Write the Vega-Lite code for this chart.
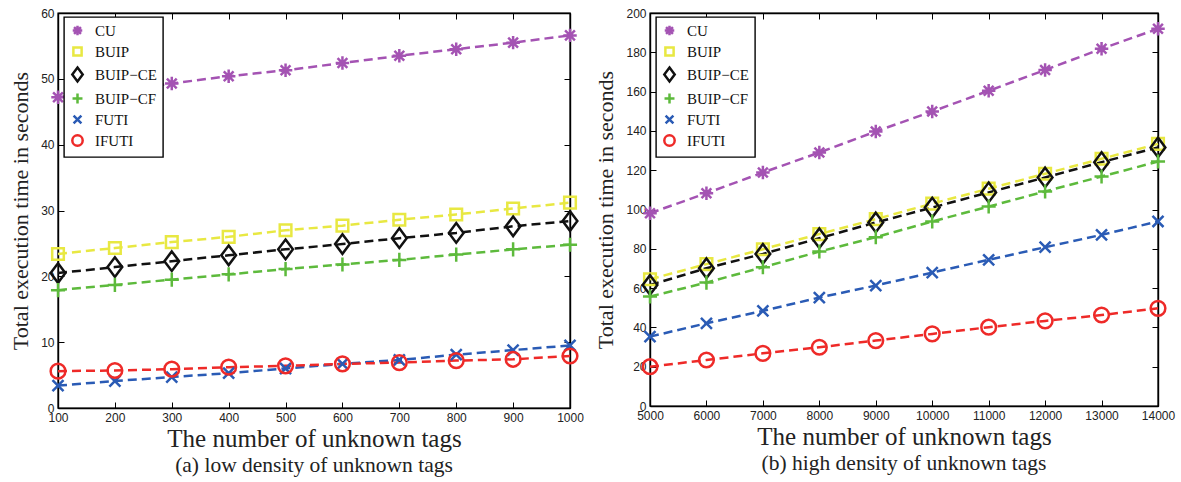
{
  "$schema": "https://vega.github.io/schema/vega-lite/v6.json",
  "background": "white",
  "padding": {"left": 8, "top": 6, "right": 6, "bottom": 2},
  "spacing": 9,
  "config": {
    "view": {"stroke": "black", "strokeWidth": 1.4},
    "axis": {"grid": false, "domainColor": "black", "domainWidth": 1.4, "tickColor": "black", "tickWidth": 1, "labelFont": "Liberation Sans", "labelFontSize": 12, "labelColor": "#222", "labelFlush": false, "titleFont": "Liberation Serif", "titleFontWeight": "normal", "titleColor": "#222", "tickSize": -6, "labelPadding": 10, "format": "d"},
    "legend": {"strokeColor": "black", "strokeWidth": 1.4, "fillColor": "white", "padding": 6, "rowPadding": 1, "symbolSize": 75, "symbolStrokeWidth": 2.5, "labelFont": "Liberation Serif", "labelFontSize": 15, "labelColor": "#111", "labelOffset": 10}
  },
  "datasets": {
    "low": [
      {"n": 100, "method": "CU", "t": 47.2}, {"n": 200, "method": "CU", "t": 48.2}, {"n": 300, "method": "CU", "t": 49.3}, {"n": 400, "method": "CU", "t": 50.4}, {"n": 500, "method": "CU", "t": 51.3}, {"n": 600, "method": "CU", "t": 52.4}, {"n": 700, "method": "CU", "t": 53.5}, {"n": 800, "method": "CU", "t": 54.5}, {"n": 900, "method": "CU", "t": 55.5}, {"n": 1000, "method": "CU", "t": 56.6},
      {"n": 100, "method": "BUIP", "t": 23.4}, {"n": 200, "method": "BUIP", "t": 24.3}, {"n": 300, "method": "BUIP", "t": 25.2}, {"n": 400, "method": "BUIP", "t": 26.0}, {"n": 500, "method": "BUIP", "t": 27.0}, {"n": 600, "method": "BUIP", "t": 27.7}, {"n": 700, "method": "BUIP", "t": 28.6}, {"n": 800, "method": "BUIP", "t": 29.4}, {"n": 900, "method": "BUIP", "t": 30.3}, {"n": 1000, "method": "BUIP", "t": 31.2},
      {"n": 100, "method": "BUIP−CE", "t": 20.5}, {"n": 200, "method": "BUIP−CE", "t": 21.4}, {"n": 300, "method": "BUIP−CE", "t": 22.3}, {"n": 400, "method": "BUIP−CE", "t": 23.2}, {"n": 500, "method": "BUIP−CE", "t": 24.1}, {"n": 600, "method": "BUIP−CE", "t": 24.9}, {"n": 700, "method": "BUIP−CE", "t": 25.8}, {"n": 800, "method": "BUIP−CE", "t": 26.6}, {"n": 900, "method": "BUIP−CE", "t": 27.6}, {"n": 1000, "method": "BUIP−CE", "t": 28.4},
      {"n": 100, "method": "BUIP−CF", "t": 17.9}, {"n": 200, "method": "BUIP−CF", "t": 18.7}, {"n": 300, "method": "BUIP−CF", "t": 19.5}, {"n": 400, "method": "BUIP−CF", "t": 20.3}, {"n": 500, "method": "BUIP−CF", "t": 21.1}, {"n": 600, "method": "BUIP−CF", "t": 21.8}, {"n": 700, "method": "BUIP−CF", "t": 22.5}, {"n": 800, "method": "BUIP−CF", "t": 23.3}, {"n": 900, "method": "BUIP−CF", "t": 24.1}, {"n": 1000, "method": "BUIP−CF", "t": 24.8},
      {"n": 100, "method": "FUTI", "t": 3.4}, {"n": 200, "method": "FUTI", "t": 4.1}, {"n": 300, "method": "FUTI", "t": 4.7}, {"n": 400, "method": "FUTI", "t": 5.3}, {"n": 500, "method": "FUTI", "t": 6.0}, {"n": 600, "method": "FUTI", "t": 6.7}, {"n": 700, "method": "FUTI", "t": 7.3}, {"n": 800, "method": "FUTI", "t": 8.1}, {"n": 900, "method": "FUTI", "t": 8.8}, {"n": 1000, "method": "FUTI", "t": 9.5},
      {"n": 100, "method": "IFUTI", "t": 5.6}, {"n": 200, "method": "IFUTI", "t": 5.7}, {"n": 300, "method": "IFUTI", "t": 5.9}, {"n": 400, "method": "IFUTI", "t": 6.2}, {"n": 500, "method": "IFUTI", "t": 6.4}, {"n": 600, "method": "IFUTI", "t": 6.7}, {"n": 700, "method": "IFUTI", "t": 6.9}, {"n": 800, "method": "IFUTI", "t": 7.2}, {"n": 900, "method": "IFUTI", "t": 7.4}, {"n": 1000, "method": "IFUTI", "t": 7.9}
    ],
    "high": [
      {"n": 5000, "method": "CU", "t": 98.1}, {"n": 6000, "method": "CU", "t": 108.3}, {"n": 7000, "method": "CU", "t": 118.8}, {"n": 8000, "method": "CU", "t": 129.0}, {"n": 9000, "method": "CU", "t": 139.7}, {"n": 10000, "method": "CU", "t": 149.9}, {"n": 11000, "method": "CU", "t": 160.4}, {"n": 12000, "method": "CU", "t": 171.0}, {"n": 13000, "method": "CU", "t": 181.8}, {"n": 14000, "method": "CU", "t": 192.0},
      {"n": 5000, "method": "BUIP", "t": 64.5}, {"n": 6000, "method": "BUIP", "t": 72.2}, {"n": 7000, "method": "BUIP", "t": 79.8}, {"n": 8000, "method": "BUIP", "t": 87.5}, {"n": 9000, "method": "BUIP", "t": 95.1}, {"n": 10000, "method": "BUIP", "t": 103.0}, {"n": 11000, "method": "BUIP", "t": 110.6}, {"n": 12000, "method": "BUIP", "t": 118.2}, {"n": 13000, "method": "BUIP", "t": 125.8}, {"n": 14000, "method": "BUIP", "t": 133.4},
      {"n": 5000, "method": "BUIP−CE", "t": 61.6}, {"n": 6000, "method": "BUIP−CE", "t": 70.1}, {"n": 7000, "method": "BUIP−CE", "t": 77.4}, {"n": 8000, "method": "BUIP−CE", "t": 85.4}, {"n": 9000, "method": "BUIP−CE", "t": 93.4}, {"n": 10000, "method": "BUIP−CE", "t": 101.0}, {"n": 11000, "method": "BUIP−CE", "t": 108.7}, {"n": 12000, "method": "BUIP−CE", "t": 116.3}, {"n": 13000, "method": "BUIP−CE", "t": 124.1}, {"n": 14000, "method": "BUIP−CE", "t": 131.6},
      {"n": 5000, "method": "BUIP−CF", "t": 55.7}, {"n": 6000, "method": "BUIP−CF", "t": 62.8}, {"n": 7000, "method": "BUIP−CF", "t": 70.6}, {"n": 8000, "method": "BUIP−CF", "t": 78.6}, {"n": 9000, "method": "BUIP−CF", "t": 85.9}, {"n": 10000, "method": "BUIP−CF", "t": 93.9}, {"n": 11000, "method": "BUIP−CF", "t": 101.5}, {"n": 12000, "method": "BUIP−CF", "t": 109.2}, {"n": 13000, "method": "BUIP−CF", "t": 116.8}, {"n": 14000, "method": "BUIP−CF", "t": 124.4},
      {"n": 5000, "method": "FUTI", "t": 35.3}, {"n": 6000, "method": "FUTI", "t": 42.1}, {"n": 7000, "method": "FUTI", "t": 48.4}, {"n": 8000, "method": "FUTI", "t": 55.2}, {"n": 9000, "method": "FUTI", "t": 61.3}, {"n": 10000, "method": "FUTI", "t": 67.9}, {"n": 11000, "method": "FUTI", "t": 74.4}, {"n": 12000, "method": "FUTI", "t": 80.8}, {"n": 13000, "method": "FUTI", "t": 87.1}, {"n": 14000, "method": "FUTI", "t": 93.9},
      {"n": 5000, "method": "IFUTI", "t": 20.0}, {"n": 6000, "method": "IFUTI", "t": 23.4}, {"n": 7000, "method": "IFUTI", "t": 26.8}, {"n": 8000, "method": "IFUTI", "t": 29.9}, {"n": 9000, "method": "IFUTI", "t": 33.3}, {"n": 10000, "method": "IFUTI", "t": 36.7}, {"n": 11000, "method": "IFUTI", "t": 40.1}, {"n": 12000, "method": "IFUTI", "t": 43.3}, {"n": 13000, "method": "IFUTI", "t": 46.3}, {"n": 14000, "method": "IFUTI", "t": 49.7}
    ]
  },
  "resolve": {"scale": {"color": "independent", "shape": "independent"}, "legend": {"color": "independent", "shape": "independent"}},
  "hconcat": [
    {
      "width": 512, "height": 395,
      "data": {"name": "low"},
      "title": {"text": "(a) low density of unknown tags", "orient": "bottom", "font": "Liberation Serif", "fontSize": 21.5, "fontWeight": "normal", "color": "#222", "offset": 4},
      "layer": [
        {
          "mark": {"type": "line", "strokeDash": [9, 5], "strokeWidth": 2.5},
          "encoding": {
            "x": {"field": "n", "type": "quantitative", "scale": {"domain": [100, 1000], "nice": false}, "axis": {"orient": "top", "labels": false, "title": null, "values": [100, 200, 300, 400, 500, 600, 700, 800, 900, 1000]}},
            "y": {"field": "t", "type": "quantitative", "scale": {"domain": [0, 60], "nice": false}, "axis": {"orient": "right", "labels": false, "title": null, "values": [0, 10, 20, 30, 40, 50, 60]}},
            "color": {"field": "method", "type": "nominal", "sort": ["CU", "BUIP", "BUIP−CE", "BUIP−CF", "FUTI", "IFUTI"], "scale": {"domain": ["CU", "BUIP", "BUIP−CE", "BUIP−CF", "FUTI", "IFUTI"], "range": ["#A453B3", "#E8E842", "#111111", "#5DBA3C", "#2A5BB5", "#EE2A28"]}}
          }
        },
        {
          "mark": {"type": "point", "filled": false, "strokeWidth": 2.5, "size": 150, "opacity": 1},
          "encoding": {
            "x": {"field": "n", "type": "quantitative", "scale": {"domain": [100, 1000], "nice": false}, "axis": {"orient": "bottom", "title": "The number of unknown tags", "titleFontSize": 25, "titlePadding": 3, "values": [100, 200, 300, 400, 500, 600, 700, 800, 900, 1000]}},
            "y": {"field": "t", "type": "quantitative", "scale": {"domain": [0, 60], "nice": false}, "axis": {"orient": "left", "title": "Total execution time in seconds", "titleFontSize": 22, "titlePadding": 8, "values": [0, 10, 20, 30, 40, 50, 60]}},
            "color": {"field": "method", "type": "nominal", "sort": ["CU", "BUIP", "BUIP−CE", "BUIP−CF", "FUTI", "IFUTI"], "scale": {"domain": ["CU", "BUIP", "BUIP−CE", "BUIP−CF", "FUTI", "IFUTI"], "range": ["#A453B3", "#E8E842", "#111111", "#5DBA3C", "#2A5BB5", "#EE2A28"]}, "legend": {"title": null, "orient": "none", "legendX": 6, "legendY": 4, "strokeColor": "black", "fillColor": "white"}},
            "shape": {"field": "method", "type": "nominal", "sort": ["CU", "BUIP", "BUIP−CE", "BUIP−CF", "FUTI", "IFUTI"], "scale": {"domain": ["CU", "BUIP", "BUIP−CE", "BUIP−CF", "FUTI", "IFUTI"], "range": ["M-1.1,0L1.1,0M0,-1.1L0,1.1M-0.8,-0.8L0.8,0.8M-0.8,0.8L0.8,-0.8", "M-0.95,-0.95L0.95,-0.95L0.95,0.95L-0.95,0.95Z", "M0,-1.6L1.2,0L0,1.6L-1.2,0Z", "M-1.15,0L1.15,0M0,-1.15L0,1.15", "M-0.9,-0.9L0.9,0.9M-0.9,0.9L0.9,-0.9", "M1.2,0A1.2,1.2,0,1,1,-1.2,0A1.2,1.2,0,1,1,1.2,0Z"]}, "legend": null}
          }
        }
      ],
      "resolve": {"axis": {"x": "independent", "y": "independent"}}
    },
    {
      "width": 508, "height": 393,
      "data": {"name": "high"},
      "title": {"text": "(b) high density of unknown tags", "orient": "bottom", "font": "Liberation Serif", "fontSize": 21.5, "fontWeight": "normal", "color": "#222", "offset": 4},
      "layer": [
        {
          "mark": {"type": "line", "strokeDash": [9, 5], "strokeWidth": 2.5},
          "encoding": {
            "x": {"field": "n", "type": "quantitative", "scale": {"domain": [5000, 14000], "nice": false}, "axis": {"orient": "top", "labels": false, "title": null, "values": [5000, 6000, 7000, 8000, 9000, 10000, 11000, 12000, 13000, 14000]}},
            "y": {"field": "t", "type": "quantitative", "scale": {"domain": [0, 200], "nice": false}, "axis": {"orient": "right", "labels": false, "title": null, "values": [0, 20, 40, 60, 80, 100, 120, 140, 160, 180, 200]}},
            "color": {"field": "method", "type": "nominal", "sort": ["CU", "BUIP", "BUIP−CE", "BUIP−CF", "FUTI", "IFUTI"], "scale": {"domain": ["CU", "BUIP", "BUIP−CE", "BUIP−CF", "FUTI", "IFUTI"], "range": ["#A453B3", "#E8E842", "#111111", "#5DBA3C", "#2A5BB5", "#EE2A28"]}}
          }
        },
        {
          "mark": {"type": "point", "filled": false, "strokeWidth": 2.5, "size": 150, "opacity": 1},
          "encoding": {
            "x": {"field": "n", "type": "quantitative", "scale": {"domain": [5000, 14000], "nice": false}, "axis": {"orient": "bottom", "title": "The number of unknown tags", "titleFontSize": 25, "titlePadding": 3, "values": [5000, 6000, 7000, 8000, 9000, 10000, 11000, 12000, 13000, 14000]}},
            "y": {"field": "t", "type": "quantitative", "scale": {"domain": [0, 200], "nice": false}, "axis": {"orient": "left", "title": "Total execution time in seconds", "titleFontSize": 22, "titlePadding": 8, "values": [0, 20, 40, 60, 80, 100, 120, 140, 160, 180, 200]}},
            "color": {"field": "method", "type": "nominal", "sort": ["CU", "BUIP", "BUIP−CE", "BUIP−CF", "FUTI", "IFUTI"], "scale": {"domain": ["CU", "BUIP", "BUIP−CE", "BUIP−CF", "FUTI", "IFUTI"], "range": ["#A453B3", "#E8E842", "#111111", "#5DBA3C", "#2A5BB5", "#EE2A28"]}, "legend": {"title": null, "orient": "none", "legendX": 6, "legendY": 4, "strokeColor": "black", "fillColor": "white"}},
            "shape": {"field": "method", "type": "nominal", "sort": ["CU", "BUIP", "BUIP−CE", "BUIP−CF", "FUTI", "IFUTI"], "scale": {"domain": ["CU", "BUIP", "BUIP−CE", "BUIP−CF", "FUTI", "IFUTI"], "range": ["M-1.1,0L1.1,0M0,-1.1L0,1.1M-0.8,-0.8L0.8,0.8M-0.8,0.8L0.8,-0.8", "M-0.95,-0.95L0.95,-0.95L0.95,0.95L-0.95,0.95Z", "M0,-1.6L1.2,0L0,1.6L-1.2,0Z", "M-1.15,0L1.15,0M0,-1.15L0,1.15", "M-0.9,-0.9L0.9,0.9M-0.9,0.9L0.9,-0.9", "M1.2,0A1.2,1.2,0,1,1,-1.2,0A1.2,1.2,0,1,1,1.2,0Z"]}, "legend": null}
          }
        }
      ],
      "resolve": {"axis": {"x": "independent", "y": "independent"}}
    }
  ]
}
